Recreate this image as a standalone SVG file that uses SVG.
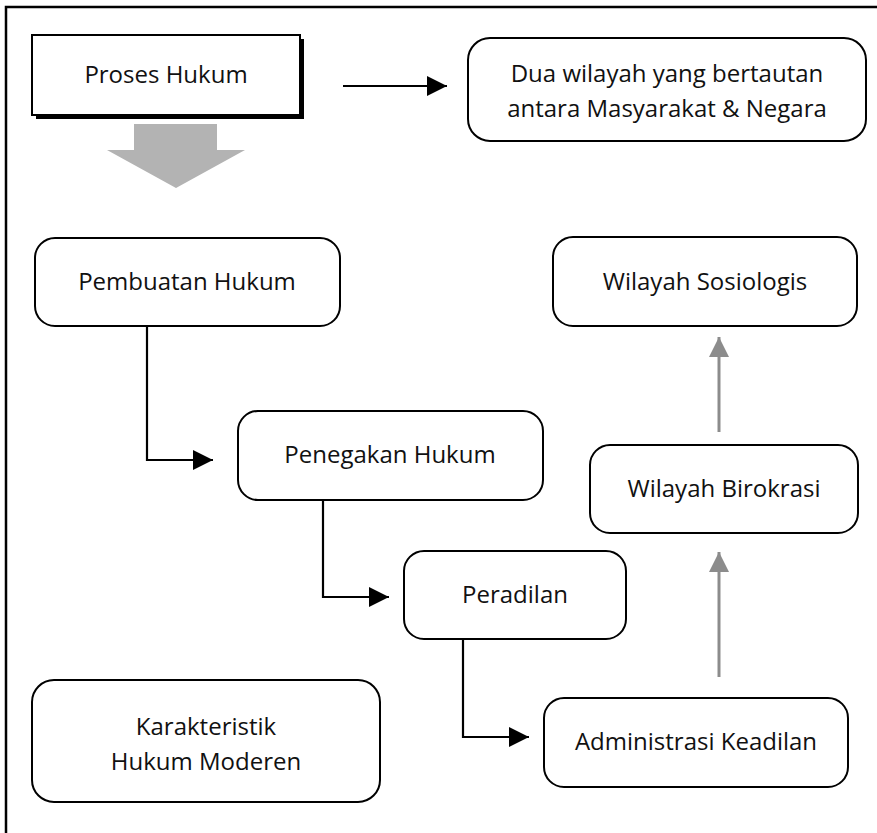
<svg xmlns="http://www.w3.org/2000/svg" width="877" height="833" viewBox="0 0 877 833">
  <style>
    .box { fill: #ffffff; stroke: #000000; stroke-width: 2; }
    .lbl { font-family: "Open Sans", "Noto Sans", "DejaVu Sans", sans-serif; font-size: 24px; fill: #111111; text-anchor: middle; }
    .link { fill: none; stroke: #000000; stroke-width: 2.2; }
    .glink { fill: none; stroke: #8c8c8c; stroke-width: 3; }
  </style>
  <defs>
    <marker id="head" markerUnits="userSpaceOnUse" markerWidth="20" markerHeight="20" refX="20" refY="10" orient="auto">
      <path d="M0,0 L20,10 L0,20 Z" fill="#000000"/>
    </marker>
    <marker id="ghead" markerUnits="userSpaceOnUse" markerWidth="20" markerHeight="20" refX="20" refY="10" orient="auto">
      <path d="M0,0 L20,10 L0,20 Z" fill="#8c8c8c"/>
    </marker>
  </defs>

  <rect width="877" height="833" fill="#ffffff"/>

  <!-- outer frame (only top and left edges fall inside the canvas) -->
  <path d="M6,840 L6,7 L880,7" fill="none" stroke="#000000" stroke-width="2.5"/>

  <g id="proses-hukum">
    <rect x="36" y="39" width="268" height="80" fill="#000000"/>
    <rect x="32" y="35" width="268" height="80" class="box"/>
    <text x="166" y="83" class="lbl">Proses Hukum</text>
  </g>

  <g id="big-arrow">
    <path d="M134,124 L217,124 L217,150 L245,150 L176,188 L107,150 L134,150 Z" fill="#b3b3b3"/>
  </g>

  <g id="dua-wilayah">
    <rect x="468" y="38" width="398" height="103" rx="22" class="box"/>
    <text x="667" y="82" class="lbl">Dua wilayah yang bertautan</text>
    <text x="667" y="117" class="lbl">antara Masyarakat &amp; Negara</text>
  </g>

  <g id="pembuatan-hukum">
    <rect x="35" y="238" width="305" height="88" rx="20" class="box"/>
    <text x="187" y="290" class="lbl">Pembuatan Hukum</text>
  </g>

  <g id="wilayah-sosiologis">
    <rect x="553" y="237" width="304" height="89" rx="20" class="box"/>
    <text x="705" y="290" class="lbl">Wilayah Sosiologis</text>
  </g>

  <g id="penegakan-hukum">
    <rect x="238" y="411" width="305" height="89" rx="20" class="box"/>
    <text x="390" y="463" class="lbl">Penegakan Hukum</text>
  </g>

  <g id="wilayah-birokrasi">
    <rect x="590" y="445" width="268" height="88" rx="20" class="box"/>
    <text x="724" y="497" class="lbl">Wilayah Birokrasi</text>
  </g>

  <g id="peradilan">
    <rect x="404" y="551" width="222" height="88" rx="20" class="box"/>
    <text x="515" y="603" class="lbl">Peradilan</text>
  </g>

  <g id="karakteristik">
    <rect x="32" y="680" width="348" height="122" rx="22" class="box"/>
    <text x="206" y="735" class="lbl">Karakteristik</text>
    <text x="206" y="770" class="lbl">Hukum Moderen</text>
  </g>

  <g id="administrasi-keadilan">
    <rect x="544" y="698" width="304" height="89" rx="20" class="box"/>
    <text x="696" y="750" class="lbl">Administrasi Keadilan</text>
  </g>

  <g id="connectors">
    <line x1="343" y1="86" x2="447" y2="86" class="link" marker-end="url(#head)"/>
    <polyline points="147,326 147,460 213,460" class="link" marker-end="url(#head)"/>
    <polyline points="323,500 323,597 389,597" class="link" marker-end="url(#head)"/>
    <polyline points="463,639 463,737 529,737" class="link" marker-end="url(#head)"/>
    <line x1="719" y1="677" x2="719" y2="552" class="glink" marker-end="url(#ghead)"/>
    <line x1="719" y1="432" x2="719" y2="337" class="glink" marker-end="url(#ghead)"/>
  </g>
</svg>
